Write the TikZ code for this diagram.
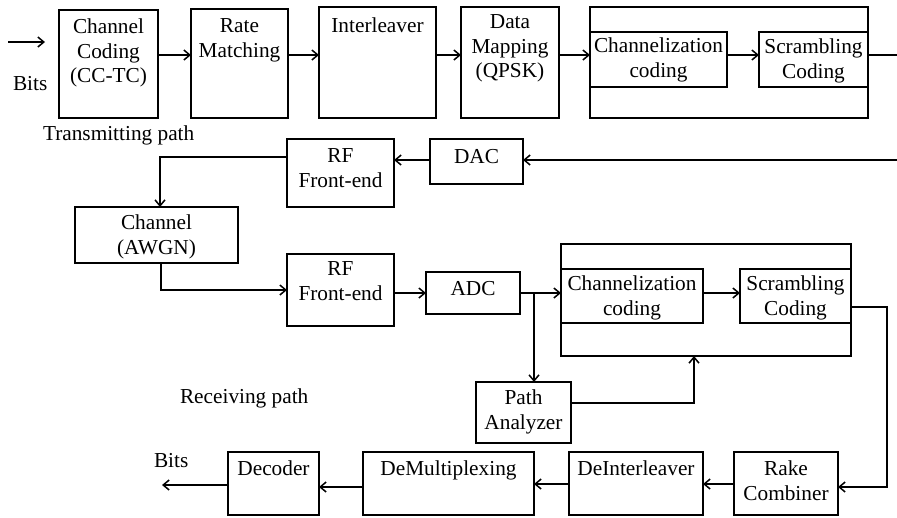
\documentclass[tikz,border=0pt]{standalone}
\usepackage{fontspec}
\setmainfont{Liberation Serif}
\usetikzlibrary{arrows.meta,fit}
\begin{document}
\begin{tikzpicture}[x=1pt,y=-1pt,
  blk/.style={draw, line width=1.8pt, inner sep=0pt, outer sep=0pt},
  txt/.style={inner sep=0pt, outer sep=0pt, align=center, font=\fontsize{21.3}{24.5}\selectfont},
  arr/.style={line width=1.5pt, -{Straight Barb[length=6pt,width=10pt]}},
  ln/.style={line width=1.5pt}]
\useasboundingbox (0,0) rectangle (897,517);

% ---- transmitting chain: blocks ----
\node[blk, fit={(59,10)(158,118)}]  (cc)    {};
\node[blk, fit={(191,9)(288,118)}]  (rate)  {};
\node[blk, fit={(319,7)(436,118)}]  (inter) {};
\node[blk, fit={(461,7)(559,118)}]  (map)   {};
\node[blk, fit={(590,7)(868,118)}]  (outT)  {};
\node[blk, fit={(590,32)(727,87)}]  (chT)   {};
\node[blk, fit={(759,32)(868,87)}]  (scT)   {};

\node[txt, anchor=north] (cc-t)    at (108.5,19) {Channel\\Coding\\(CC-TC)};
\node[txt, anchor=north] (rate-t)  at (239.5,19) {Rate\\Matching};
\node[txt, anchor=north] (inter-t) at (377.5,18) {Interleaver};
\node[txt, anchor=north] (map-t)   at (510,15)   {Data\\Mapping\\(QPSK)};
\node[txt, anchor=north] (chT-t)   at (658.5,38) {Channelization\\coding};
\node[txt, anchor=north] (scT-t)   at (813.5,39) {Scrambling\\Coding};

% ---- RF / channel section ----
\node[blk, fit={(287,139)(394,207)}] (rft) {};
\node[blk, fit={(430,139)(523,184)}] (dac) {};
\node[blk, fit={(75,207)(238,263)}]  (chn) {};
\node[blk, fit={(287,254)(394,326)}] (rfr) {};
\node[blk, fit={(426,272)(520,314)}] (adc) {};

\node[txt, anchor=north] (rft-t) at (340.5,149) {RF\\Front-end};
\node[txt, anchor=base]  (dac-t) at (476.5,163) {DAC};
\node[txt, anchor=north] (chn-t) at (156.5,215) {Channel\\(AWGN)};
\node[txt, anchor=north] (rfr-t) at (340.5,262) {RF\\Front-end};
\node[txt, anchor=base]  (adc-t) at (473,295)   {ADC};

% ---- receiving chain ----
\node[blk, fit={(561,244)(851,356)}] (outR) {};
\node[blk, fit={(561,269)(703,323)}] (chR)  {};
\node[blk, fit={(740,269)(851,323)}] (scR)  {};
\node[blk, fit={(476,382)(571,443)}] (pa)   {};
\node[blk, fit={(228,452)(319,515)}] (dec)  {};
\node[blk, fit={(363,452)(534,515)}] (dmx)  {};
\node[blk, fit={(569,452)(703,515)}] (dil)  {};
\node[blk, fit={(734,452)(838,515)}] (rake) {};

\node[txt, anchor=north] (chR-t)  at (632,276)   {Channelization\\coding};
\node[txt, anchor=north] (scR-t)  at (795.5,276) {Scrambling\\Coding};
\node[txt, anchor=north] (pa-t)   at (523.5,390) {Path\\Analyzer};
\node[txt, anchor=base]  (dec-t)  at (273.5,475) {Decoder};
\node[txt, anchor=base]  (dmx-t)  at (448.5,475) {DeMultiplexing};
\node[txt, anchor=base]  (dil-t)  at (636,475)   {DeInterleaver};
\node[txt, anchor=north] (rake-t) at (786,461)   {Rake\\Combiner};

% ---- free labels ----
\node[txt, anchor=base west] (bitsIn)  at (13,90)   {Bits};
\node[txt, anchor=base west] (txLabel) at (43,140)  {Transmitting path};
\node[txt, anchor=base west] (rxLabel) at (180,403) {Receiving path};
\node[txt, anchor=base west] (bitsOut) at (154,467) {Bits};

% ---- helper coordinates ----
\coordinate (inS)  at (8,42);
\coordinate (inE)  at (45,42);
\coordinate (yT)   at (0,55);
\coordinate (tOut) at (897,55);
\coordinate (rIn)  at (897,160);
\coordinate (yRF)  at (0,157);
\coordinate (yCh)  at (0,290);
\coordinate (br)   at (534,0);
\coordinate (yPA)  at (0,403);
\coordinate (up)   at (694,0);
\coordinate (ySc)  at (0,307);
\coordinate (dn)   at (887,0);
\coordinate (yRk)  at (0,487);
\coordinate (yBt)  at (0,484);
\coordinate (outE) at (162,485);

% ---- transmitting connectors ----
\draw[arr] (inS) -- (inE);
\draw[arr] (cc.east |- yT)    -- (rate.west |- yT);
\draw[arr] (rate.east |- yT)  -- (inter.west |- yT);
\draw[arr] (inter.east |- yT) -- (map.west |- yT);
\draw[arr] (map.east |- yT)   -- (chT.west |- yT);
\draw[arr] (chT.east |- yT)   -- (scT.west |- yT);
\draw[ln]  (scT.east |- yT)   -- (tOut);

\draw[arr] (rIn) -- (dac.east |- rIn);
\draw[arr] (dac.west |- rIn) -- (rft.east |- rIn);
\draw[arr] (rft.west |- yRF) -| ([xshift=3.5pt]chn.north);
\draw[arr] ([xshift=4.5pt]chn.south) |- (rfr.west |- yCh);

% ---- receiving connectors ----
\draw[arr] (rfr.east |- adc.west) -- (adc.west);
\draw[arr] (adc.east) -- (chR.west |- adc.east);
\draw[arr] (chR.east |- adc.east) -- (scR.west |- adc.east);
\draw[arr] (br |- adc.east) -- (br |- pa.north);
\draw[arr] (pa.east |- yPA) -| (up |- outR.south);
\draw[arr] (scR.east |- ySc) -| (dn |- yRk) -- (rake.east |- yRk);

\draw[arr] (rake.west |- yBt) -- (dil.east |- yBt);
\draw[arr] (dil.west |- yBt)  -- (dmx.east |- yBt);
\draw[arr] (dmx.west |- yRk)  -- (dec.east |- yRk);
\draw[arr] (dec.west |- outE) -- (outE);
\end{tikzpicture}
\end{document}
